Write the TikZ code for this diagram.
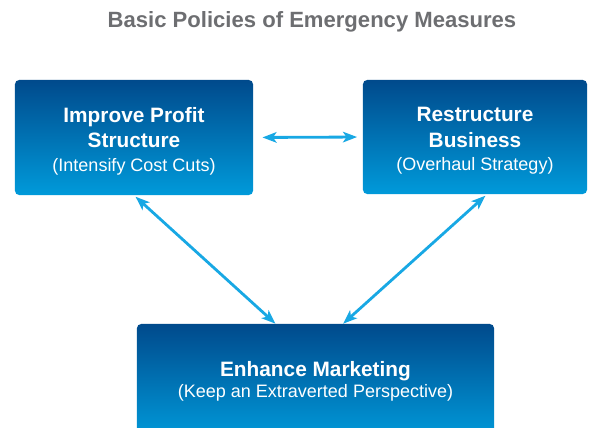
\documentclass[tikz,border=0pt]{standalone}
\usepackage{fontspec}
\setmainfont{Liberation Sans}
\usetikzlibrary{arrows.meta,positioning,calc}
\definecolor{boxtop}{RGB}{0, 74, 140}
\definecolor{boxbot}{RGB}{0, 154, 218}
\definecolor{linkblue}{RGB}{24, 168, 228}
\definecolor{titlegray}{RGB}{109, 110, 113}
\newcommand{\subtxt}[1]{{\fontsize{12.8}{17}\selectfont\mdseries #1}}

\begin{document}
\begin{tikzpicture}[
        x=0.025cm, y=-0.025cm,
        block/.style={rectangle, rounded corners=3pt, top color=boxtop, bottom color=boxbot, draw=none, align=center, text=white, font=\fontsize{14.8}{18}\selectfont\bfseries, inner sep=0pt},
        arrow/.style={{Stealth[length=10pt,width=7.5pt,inset=2.5pt]}-{Stealth[length=10pt,width=7.5pt,inset=2.5pt]}, line width=2pt, draw=linkblue}
    ]
        \useasboundingbox (0,0) rectangle (600,428);
        \begin{scope}
        \clip (0,0) rectangle (600,428);

        % Title
        \node[text=titlegray, font=\fontsize{15.7}{18}\selectfont\bfseries] (title) at (312,22) {Basic Policies of Emergency Measures};

        % Upper boxes
        \node[block, minimum width=5.95cm, minimum height=2.875cm] (profit) at (134,137.5) {\rule{0pt}{16pt}Improve Profit\\Structure\\[-1pt]\subtxt{(Intensify Cost Cuts)}};
        \node[block, minimum width=5.6cm, minimum height=2.85cm] (restruct) at (475,137) {\rule{0pt}{16pt}Restructure\\Business\\[-1pt]\subtxt{(Overhaul Strategy)}};

        % Lower box
        \node[block, minimum width=8.925cm, minimum height=2.875cm] (market) at (315.5,381.5) {Enhance Marketing\\[-3pt]\subtxt{(Keep an Extraverted Perspective)}};

        \draw[arrow, shorten <=6.5pt, shorten >=4pt] (profit.east) -- (restruct.west);
        \draw[arrow, shorten <=1.5pt] (profit.south) -- ([xshift=-1cm]market.north);
        \draw[arrow, shorten <=1.5pt] ([xshift=0.3cm]restruct.south) -- ([xshift=0.69cm]market.north);
        \end{scope}
    \end{tikzpicture}
\end{document}
